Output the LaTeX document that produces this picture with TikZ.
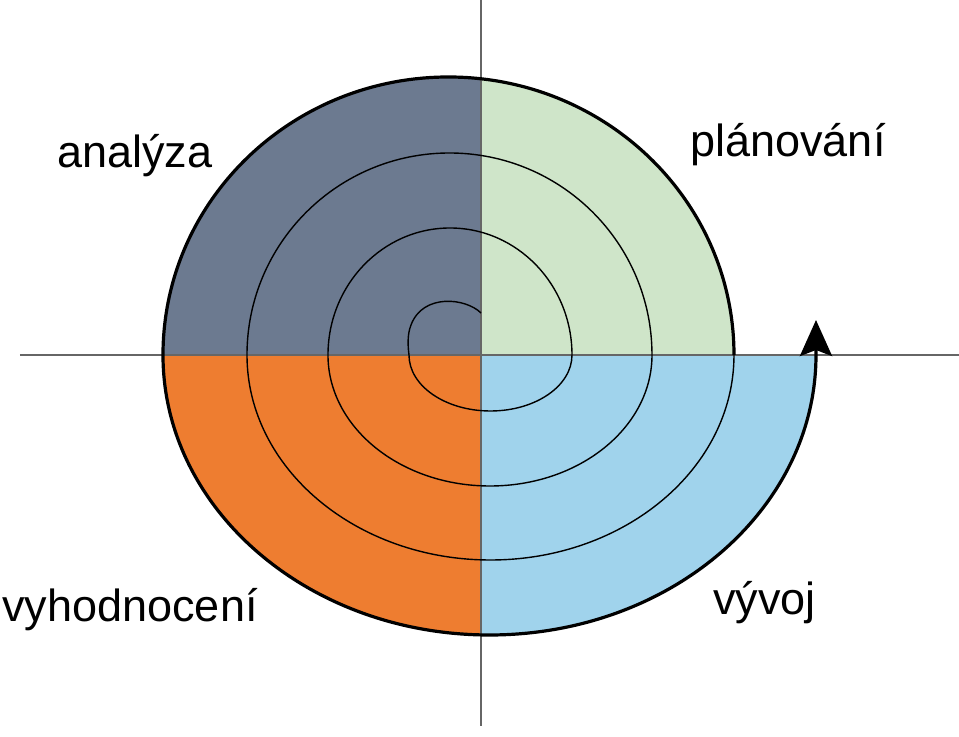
\documentclass[tikz,border=0pt]{standalone}
\usepackage{fontspec}
\setmainfont{Liberation Sans}
\usepackage{tikz}
\usetikzlibrary{arrows.meta,positioning}

\definecolor{analyzaColor}{RGB}{108,122,144}
\definecolor{planovaniColor}{RGB}{207,229,201}
\definecolor{vyhodnoceniColor}{RGB}{238,125,48}
\definecolor{vyvojColor}{RGB}{160,211,236}

\tikzset{
    axisLine/.style={draw=black!60,line width=0.75pt},
    spiralLine/.style={draw=black,line width=0.7pt},
    outerLine/.style={draw=black,line width=1.6pt},
    phaseLabel/.style={anchor=base west,inner sep=0pt,font=\fontsize{22.5}{27}\selectfont}
}

\begin{document}
\begin{tikzpicture}[x=0.5pt,y=0.5pt]
        \useasboundingbox (-481,-382) rectangle (478,355);

        % Quadrants
        \fill[analyzaColor] (0,0) -- (-318,0) arc[start angle=180,end angle=83.46,x radius=285.5,y radius=278] -- cycle;
        \fill[planovaniColor] (0,0) -- (253,0) arc[start angle=0,end angle=83.46,x radius=285.5,y radius=278] -- cycle;
        \fill[vyhodnoceniColor] (0,0) -- (-318,0) arc[start angle=180,end angle=268.5,x radius=326.5,y radius=280] -- cycle;
        \fill[vyvojColor] (0,0) -- (335,0) arc[start angle=360,end angle=268.5,x radius=326.5,y radius=280] -- cycle;

        % Axes
        \coordinate (centre) at (0,0);
        \coordinate (axisTop) at (0,355);
        \coordinate (axisBottom) at (0,-371);
        \coordinate (axisLeft) at (-461,0);
        \coordinate (axisRight) at (478,0);
        \draw[axisLine] (axisTop) -- (axisBottom);
        \draw[axisLine] (axisLeft) -- (axisRight);

        % Spiral
        \coordinate (spiralStart) at (0,42);
        \draw[spiralLine] (spiralStart) .. controls (-15,57) and (-58,62) .. (-70,30)
            .. controls (-74,20) and (-73,8) .. (-72,0)
            arc[start angle=180,end angle=360,x radius=81.5,y radius=56]
            arc[start angle=0,end angle=180,x radius=122,y radius=127]
            arc[start angle=180,end angle=360,x radius=162,y radius=131]
            arc[start angle=0,end angle=180,x radius=202.5,y radius=202]
            arc[start angle=180,end angle=360,x radius=243.5,y radius=205];

        % Outer turn with arrow
        \coordinate (outerStart) at (253,0);
        \coordinate (arrowTip) at (335,35);
        \draw[outerLine,-{Stealth[length=18pt,width=16pt,inset=3pt]}] (outerStart)
            arc[start angle=0,end angle=180,x radius=285.5,y radius=278]
            arc[start angle=180,end angle=360,x radius=326.5,y radius=280] -- (arrowTip);

        % Labels
        \node[phaseLabel] (analyza) at (-424,187) {analýza};
        \node[phaseLabel] (planovani) at (209,198) {plánování};
        \node[phaseLabel] (vyhodnoceni) at (-479,-267) {vyhodnocení};
        \node[phaseLabel] (vyvoj) at (232,-260) {vývoj};
\end{tikzpicture}
\end{document}
